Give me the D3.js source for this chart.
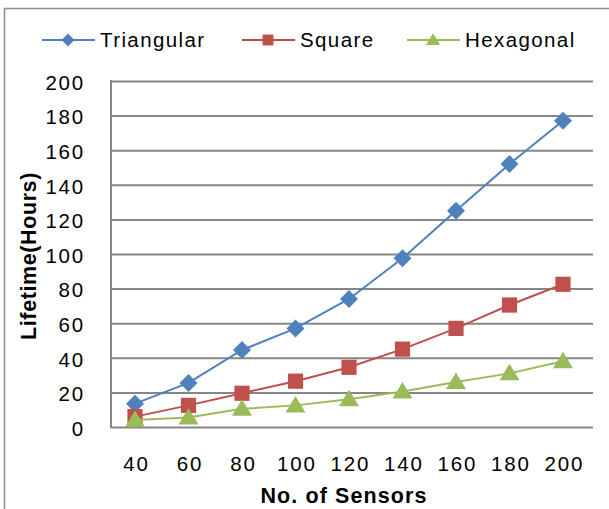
<!DOCTYPE html>
<html>
<head>
<meta charset="utf-8">
<script src="https://cdn.jsdelivr.net/npm/d3@7"></script>
<style>
  html, body { margin: 0; padding: 0; background: #fff; }
  svg { display: block; font-family: "Liberation Sans", Arial, sans-serif; }
</style>
</head>
<body>
<svg id="chart" width="609" height="509"></svg>
<script>
// Network size on the x axis, lifetime in hours per deployment pattern
const sensors = [40, 60, 80, 100, 120, 140, 160, 180, 200];
const triangular = [13.5, 25.5, 44.5, 57, 74, 97.5, 125, 152, 177];
const square = [6, 12.5, 19.5, 26.5, 34.5, 45, 57, 70.5, 82.5];
const hexagonal = [4, 5.5, 10.5, 12.5, 16, 20.5, 26, 31, 38];
const yTicks = [0, 20, 40, 60, 80, 100, 120, 140, 160, 180, 200];

const series = [
  { name: "Triangular", values: triangular, color: "#4F81BD", shape: "diamond" },
  { name: "Square", values: square, color: "#C0504D", shape: "square" },
  { name: "Hexagonal", values: hexagonal, color: "#9BBB59", shape: "triangle" }
];

const svg = d3.select("#chart");
const plot = { left: 111, right: 593, top: 81, bottom: 427 };
const labelFont = 20.5, labelSpacing = 1.8;

// outer frame of the chart area
svg.append("rect")
  .attr("x", 4.5).attr("y", 8.5)
  .attr("width", 640).attr("height", 540)
  .attr("fill", "none").attr("stroke", "#8c8c8c").attr("stroke-width", 1.5);

const x = d3.scalePoint()
  .domain(sensors)
  .range([135, 563]);

const y = d3.scaleLinear()
  .domain([0, 200])
  .range([plot.bottom, plot.top]);

// horizontal gridlines with value labels
const yAxis = d3.axisLeft(y).tickValues(yTicks)
  .tickSize(-(plot.right - plot.left)).tickPadding(26);
const gy = svg.append("g").attr("transform", `translate(${plot.left},0)`).call(yAxis);
gy.select(".domain").remove();
gy.selectAll(".tick line").attr("stroke", "#868686").attr("stroke-width", 2);
gy.selectAll(".tick text")
  .attr("font-size", labelFont).attr("letter-spacing", labelSpacing).attr("fill", "#000")
  .attr("dy", "0.4em")
  .attr("font-family", "'Liberation Sans', Arial, sans-serif");

// left axis line
svg.append("line")
  .attr("x1", plot.left).attr("x2", plot.left)
  .attr("y1", plot.top - 1).attr("y2", plot.bottom + 1)
  .attr("stroke", "#868686").attr("stroke-width", 2);

// category labels below the plot
const xAxis = d3.axisBottom(x).tickSize(0).tickPadding(29);
const gx = svg.append("g").attr("transform", `translate(0,${plot.bottom})`).call(xAxis);
gx.select(".domain").remove();
gx.selectAll(".tick text")
  .attr("font-size", labelFont).attr("letter-spacing", labelSpacing).attr("fill", "#000")
  .attr("dx", labelSpacing / 2)
  .attr("font-family", "'Liberation Sans', Arial, sans-serif");

// marker shapes
function marker(g, shape, color, k) {
  if (shape === "diamond") {
    const s = 9 * k;
    g.append("path").attr("d", `M0,${-s}L${s},0L0,${s}L${-s},0Z`).attr("fill", color);
  } else if (shape === "square") {
    const h = 7.6 * k;
    g.append("rect").attr("x", -h).attr("y", -h).attr("width", 2 * h).attr("height", 2 * h).attr("fill", color);
  } else {
    g.append("path")
      .attr("d", `M0,${-9.5 * k}L${10 * k},${7 * k}L${-10 * k},${7 * k}Z`)
      .attr("fill", color);
  }
}

const line = d3.line()
  .x((d, i) => x(sensors[i]))
  .y(d => y(d));

series.forEach(s => {
  svg.append("path")
    .attr("d", line(s.values))
    .attr("fill", "none")
    .attr("stroke", s.color)
    .attr("stroke-width", 2);
  s.values.forEach((v, i) => {
    const g = svg.append("g").attr("transform", `translate(${x(sensors[i])},${y(v)})`);
    marker(g, s.shape, s.color, 1);
  });
});

// legend across the top
const legendX = [42, 242, 407];
series.forEach((s, i) => {
  const g = svg.append("g").attr("transform", `translate(${legendX[i]},40)`);
  g.append("line").attr("x1", 0).attr("x2", 53).attr("stroke", s.color).attr("stroke-width", 2);
  const m = g.append("g").attr("transform", "translate(26,0)");
  marker(m, s.shape, s.color, 0.72);
  g.append("text")
    .attr("x", 58).attr("y", 0).attr("dy", "0.36em")
    .attr("font-size", labelFont).attr("letter-spacing", 1.4).attr("fill", "#000")
    .text(s.name);
});

// axis titles
svg.append("text")
  .attr("x", 344).attr("y", 495).attr("dy", "0.36em")
  .attr("text-anchor", "middle")
  .attr("font-size", 21.5).attr("font-weight", "bold").attr("letter-spacing", 1.1)
  .text("No. of Sensors");

svg.append("text")
  .attr("transform", "translate(28,256) rotate(-90)")
  .attr("dy", "0.36em")
  .attr("text-anchor", "middle")
  .attr("font-size", 21.5).attr("font-weight", "bold").attr("letter-spacing", 0.6)
  .text("Lifetime(Hours)");
</script>
</body>
</html>
